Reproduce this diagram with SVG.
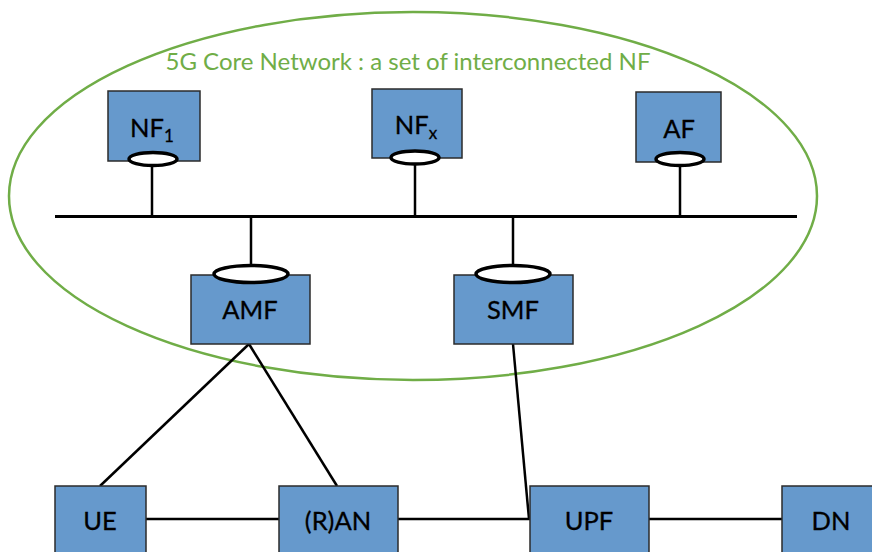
<svg xmlns="http://www.w3.org/2000/svg" width="872" height="552" viewBox="0 0 872 552">
<style>
.box{fill:#6699CC;stroke:#2b2b2b;stroke-width:1.5}
.port{fill:#fff;stroke:#000;stroke-width:3.5}
.ln{stroke:#000;stroke-width:2.5;fill:none}
.lbl{font-family:Lato,"Open Sans","Liberation Sans",sans-serif;font-size:25.5px;fill:#000;text-anchor:middle;stroke:#000;stroke-width:0.3}
.sub{font-size:17px}
</style>
<rect width="872" height="552" fill="#fff"/>
<ellipse id="core" cx="413" cy="196" rx="404" ry="184" fill="none" stroke="#70AD47" stroke-width="2.5"/>
<text x="408" y="70" font-family="Lato,'Open Sans','Liberation Sans',sans-serif" font-size="23" fill="#70AD47" text-anchor="middle" textLength="485" lengthAdjust="spacingAndGlyphs">5G Core Network : a set of interconnected NF</text>
<g id="connectors">
<line class="ln" x1="55" y1="216.5" x2="797" y2="216.5" style="stroke-width:3"/>
<line class="ln" x1="152" y1="165" x2="152" y2="216"/>
<line class="ln" x1="415" y1="164" x2="415" y2="216"/>
<line class="ln" x1="680" y1="165" x2="680" y2="216"/>
<line class="ln" x1="251" y1="216" x2="251" y2="267"/>
<line class="ln" x1="513" y1="216" x2="513" y2="267"/>
<line class="ln" x1="249" y1="344" x2="100" y2="486"/>
<line class="ln" x1="249" y1="344" x2="337" y2="486"/>
<line class="ln" x1="513" y1="344" x2="529" y2="519"/>
<line class="ln" x1="146" y1="519" x2="279" y2="519"/>
<line class="ln" x1="398" y1="519" x2="530" y2="519"/>
<line class="ln" x1="649" y1="519" x2="782" y2="519"/>
</g>
<g id="nf1">
<rect class="box" x="108" y="91" width="92" height="70"/>
<text class="lbl" x="152" y="137">NF<tspan class="sub" dy="5">1</tspan></text>
<ellipse class="port" cx="153" cy="159" rx="24" ry="6.5"/>
</g>
<g id="nfx">
<rect class="box" x="372" y="89" width="90" height="69"/>
<text class="lbl" x="416" y="134">NF<tspan class="sub" dy="5">x</tspan></text>
<ellipse class="port" cx="415" cy="157.5" rx="24" ry="6.5"/>
</g>
<g id="af">
<rect class="box" x="636" y="92" width="85" height="70"/>
<text class="lbl" x="679" y="138">AF</text>
<ellipse class="port" cx="680" cy="159" rx="24" ry="6.5"/>
</g>
<g id="amf">
<rect class="box" x="191" y="275" width="119" height="69"/>
<text class="lbl" x="250" y="319">AMF</text>
<ellipse class="port" cx="251" cy="274" rx="37" ry="8.5"/>
</g>
<g id="smf">
<rect class="box" x="454" y="275" width="119" height="69"/>
<text class="lbl" x="513" y="319">SMF</text>
<ellipse class="port" cx="513" cy="274" rx="37" ry="8.5"/>
</g>
<g id="ue">
<rect class="box" x="55" y="486" width="91" height="80"/>
<text class="lbl" x="100" y="530">UE</text>
</g>
<g id="ran">
<rect class="box" x="279" y="486" width="119" height="80"/>
<text class="lbl" x="338" y="530">(R)AN</text>
</g>
<g id="upf">
<rect class="box" x="530" y="486" width="119" height="80"/>
<text class="lbl" x="589" y="530">UPF</text>
</g>
<g id="dn">
<rect class="box" x="782" y="486" width="100" height="80"/>
<text class="lbl" x="831" y="530">DN</text>
</g>
</svg>
